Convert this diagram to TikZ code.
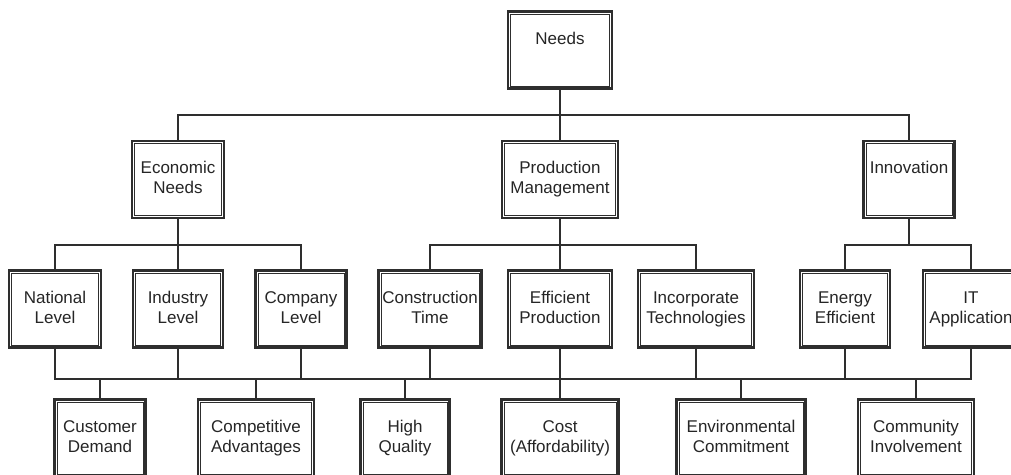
\documentclass[tikz,border=0pt]{standalone}
\usepackage{fontspec}
\setmainfont{Liberation Sans}
\definecolor{linec}{HTML}{2E2E2E}
\definecolor{txtc}{HTML}{262626}
\begin{document}
\begin{tikzpicture}[x=1pt,y=-1pt,
  nbox/.style={draw=linec, line width=2.2pt, fill=white, minimum height=77pt,
    inner sep=0pt, align=center, text=txtc,
    font=\fontsize{17}{20}\selectfont},
  wire/.style={draw=linec, line width=1.3pt},
  inner/.style={draw=linec, line width=0.9pt}]
\path[use as bounding box, clip] (0,0) rectangle (1011,474);

% level 1
\node[nbox, minimum width=104pt] (needs) at (560,50) {\strut Needs\\\strut};
% level 2
\node[nbox, minimum width=92pt]  (econ)  at (178,179.5) {\strut Economic\\\strut Needs};
\node[nbox, minimum width=116pt] (prod)  at (560,179.5) {\strut Production\\\strut Management};
\node[nbox, minimum width=91pt]  (innov) at (909,179.5) {\strut Innovation\\\strut};
% level 3
\node[nbox, minimum width=92pt]  (natl)   at (55,309)  {\strut National\\\strut Level};
\node[nbox, minimum width=90pt]  (indus)  at (178,309) {\strut Industry\\\strut Level};
\node[nbox, minimum width=91pt]  (comp)   at (301,309) {\strut Company\\\strut Level};
\node[nbox, minimum width=103pt] (constr) at (430,309) {\strut Construction\\\strut Time};
\node[nbox, minimum width=104pt] (effic)  at (560,309) {\strut Efficient\\\strut Production};
\node[nbox, minimum width=116pt] (incorp) at (696,309) {\strut Incorporate\\\strut Technologies};
\node[nbox, minimum width=90pt]  (energy) at (845,309) {\strut Energy\\\strut Efficient};
\node[nbox, minimum width=96pt]  (itapp)  at (971,309) {\strut IT\\\strut Application};
% level 4
\node[nbox, minimum width=91pt]  (cust)  at (100,438) {\strut Customer\\\strut Demand};
\node[nbox, minimum width=116pt] (compa) at (256,438) {\strut Competitive\\\strut Advantages};
\node[nbox, minimum width=89pt]  (high)  at (405,438) {\strut High\\\strut Quality};
\node[nbox, minimum width=117pt] (cost)  at (560,438) {\strut Cost\\\strut (Affordability)};
\node[nbox, minimum width=129pt] (envir) at (741,438) {\strut Environmental\\\strut Commitment};
\node[nbox, minimum width=116pt] (commu) at (916,438) {\strut Community\\\strut Involvement};

% inner frame of every box
\foreach \n in {needs,econ,prod,innov,natl,indus,comp,constr,effic,incorp,energy,itapp,cust,compa,high,cost,envir,commu}
  \draw[inner] ([shift={(3.6pt,3.6pt)}]\n.south west) rectangle ([shift={(-3.6pt,-3.6pt)}]\n.north east);

% bus lines
\coordinate (busA) at (560,115);
\coordinate (busB) at (178,245);
\coordinate (busC) at (560,245);
\coordinate (busD) at (909,245);
\coordinate (busE) at (560,379);

\draw[wire] (needs.south) -- (prod.north);
\draw[wire] (econ.north) |- (busA) -| (innov.north);

\draw[wire] (econ.south) -- (indus.north);
\draw[wire] (natl.north) |- (busB) -| (comp.north);

\draw[wire] (prod.south) -- (effic.north);
\draw[wire] (constr.north) |- (busC) -| (incorp.north);

\draw[wire] (innov.south) -- (busD);
\draw[wire] (energy.north) |- (busD) -| (itapp.north);

\draw[wire] (natl.south) |- (busE) -| (itapp.south);
\foreach \n in {indus,comp,constr,effic,incorp,energy}
  \draw[wire] (\n.south) -- (\n.south |- busE);
\foreach \n in {cust,compa,high,cost,envir,commu}
  \draw[wire] (\n.north) -- (\n.north |- busE);
\end{tikzpicture}
\end{document}
